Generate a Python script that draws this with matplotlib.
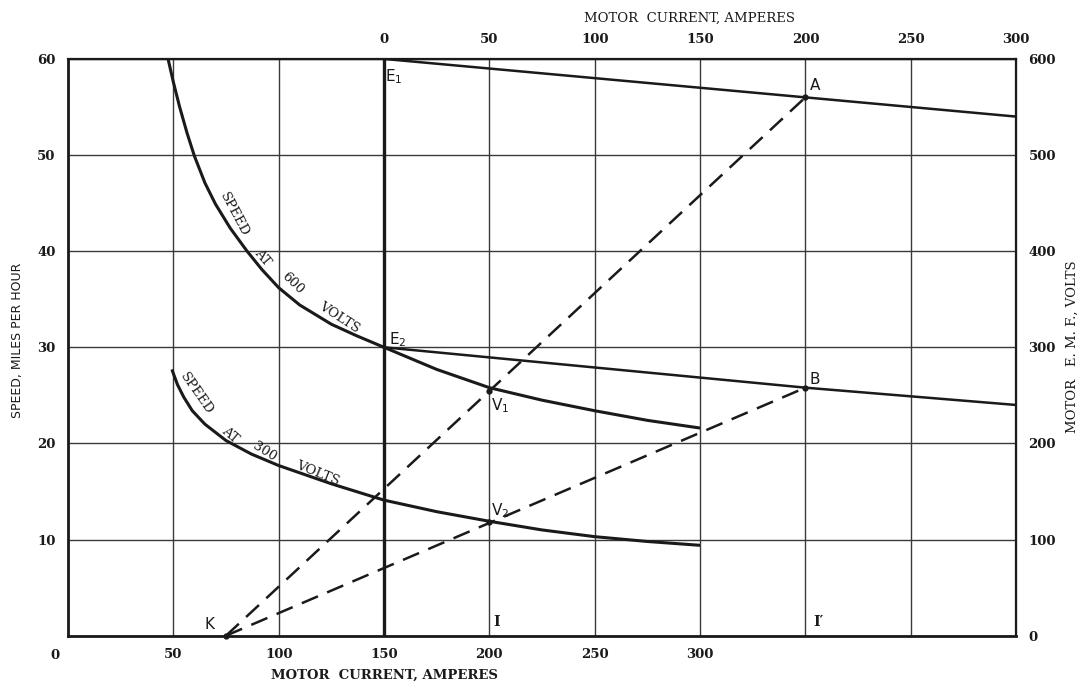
"""Speed / e.m.f. characteristic of a series traction motor at 600 V and 300 V."""

import matplotlib

matplotlib.use("Agg")
import matplotlib.pyplot as plt

plt.rcParams["mathtext.default"] = "regular"

# Speed curves, bottom current scale (amperes) vs miles per hour
amps_600 = [47.5, 50, 53, 56.5, 60, 65, 70, 77, 85, 92, 100, 110, 125, 137, 150,
            175, 200, 225, 250, 275, 300]
speed_600 = [60, 57.6, 55.0, 52.3, 49.9, 47.1, 44.9, 42.4, 40.0, 38.1, 36.2, 34.4,
             32.4, 31.2, 30.0, 27.7, 25.8, 24.5, 23.4, 22.4, 21.6]
amps_300 = [49.3, 52, 55, 59, 65, 75, 87, 100, 125, 150, 175, 200, 225, 250, 275, 300]
speed_300 = [27.7, 26.1, 24.8, 23.4, 22.0, 20.3, 18.9, 17.7, 15.8, 14.1, 12.9, 11.9,
             11.0, 10.3, 9.8, 9.4]

# E.m.f. lines (top current scale is offset by 150 A from the bottom one)
emf_origin = 150
emf_a_x = [150, 350, 450]
emf_a_y = [60, 56, 54]
emf_b_x = [150, 350, 450]
emf_b_y = [30, 25.8, 24]

# Construction points
point_k = (75, 0)
point_a = (350, 56)
point_b = (350, 25.8)
point_v1 = (200, 25.5)
point_v2 = (200, 11.8)

bottom_ticks = [0, 50, 100, 150, 200, 250, 300, 350, 400, 450]
bottom_labels = ["", "50", "100", "150", "200", "250", "300", "", "", ""]
top_ticks = [0, 50, 100, 150, 200, 250, 300]
left_ticks = [0, 10, 20, 30, 40, 50, 60]
left_labels = ["", "10", "20", "30", "40", "50", "60"]
right_ticks = [0, 100, 200, 300, 400, 500, 600]

SERIF = "DejaVu Serif"
SANS = "DejaVu Sans"
INK = "#1a1a1a"

fig = plt.figure(figsize=(10.86, 6.85), dpi=100)
ax = fig.add_axes([0.0626, 0.072, 0.873, 0.842])
ax.set_xlim(0, 450)
ax.set_ylim(0, 60)

ax.set_xticks(bottom_ticks)
ax.set_xticklabels(bottom_labels, fontfamily=SERIF, fontsize=9.5, fontweight="bold")
ax.set_yticks(left_ticks)
ax.set_yticklabels(left_labels, fontfamily=SERIF, fontsize=9.5, fontweight="bold")
ax.tick_params(length=0, pad=9, colors=INK)
ax.grid(True, color="#3a3a3a", linewidth=1.0)
ax.set_axisbelow(True)
for side, lw in {"left": 2.0, "bottom": 2.0, "top": 1.6, "right": 1.6}.items():
    ax.spines[side].set_linewidth(lw)
    ax.spines[side].set_color(INK)

top = ax.secondary_xaxis(
    "top", functions=(lambda x: x - emf_origin, lambda x: x + emf_origin)
)
top.set_xticks(top_ticks)
top.set_xticklabels([str(t) for t in top_ticks], fontfamily=SERIF, fontsize=9.5,
                    fontweight="bold")
top.tick_params(length=0, pad=9, colors=INK)

right = ax.secondary_yaxis("right", functions=(lambda y: y * 10, lambda y: y / 10))
right.set_yticks(right_ticks)
right.set_yticklabels([str(t) for t in right_ticks], fontfamily=SERIF, fontsize=9.5,
                      fontweight="bold")
right.tick_params(length=0, pad=9, colors=INK)

ax.text(-6, -2.1, "0", ha="center", va="center", fontfamily=SERIF, fontsize=9.5,
        fontweight="bold", color=INK, clip_on=False)

# zero-current line of the top scale
ax.axvline(emf_origin, color=INK, linewidth=2.4)

ax.plot(amps_600, speed_600, color=INK, linewidth=2.2, solid_capstyle="butt",
        solid_joinstyle="round")
ax.plot(amps_300, speed_300, color=INK, linewidth=2.2, solid_capstyle="butt",
        solid_joinstyle="round")
ax.plot(emf_a_x, emf_a_y, color=INK, linewidth=1.8)
ax.plot(emf_b_x, emf_b_y, color=INK, linewidth=1.8)

for end in (point_a, point_b):
    ax.plot([point_k[0], end[0]], [point_k[1], end[1]], color=INK, linewidth=1.8,
            dashes=(7, 4), clip_on=False)

dots = [point_k, point_a, point_b, point_v1, point_v2]
ax.plot([p[0] for p in dots], [p[1] for p in dots], "o", color=INK, markersize=3.5,
        clip_on=False)

label_kw = dict(fontfamily=SANS, fontsize=11, color=INK, ha="center", va="center")
ax.text(154.5, 58.2, "E$_1$", **label_kw)
ax.text(354.5, 57.2, "A", **label_kw)
ax.text(156.5, 30.8, "E$_2$", **label_kw)
ax.text(354.5, 26.7, "B", **label_kw)
ax.text(205, 23.9, "V$_1$", **label_kw)
ax.text(205, 13.0, "V$_2$", **label_kw)
ax.text(67, 1.2, "K", **label_kw)
ax.text(203.5, 1.4, "I", fontfamily=SERIF, fontsize=10, fontweight="bold",
        color=INK, ha="center", va="center")
ax.text(356, 1.4, "I\u2032", fontfamily=SERIF, fontsize=10, fontweight="bold",
        color=INK, ha="center", va="center")

# curve captions set word by word along the curves
curve_kw = dict(fontfamily=SERIF, fontsize=9.5, color=INK, ha="center",
                va="center", rotation_mode="anchor")
for word, x, y, rot in [("SPEED", 79, 43.8, -62), ("AT", 92.4, 39.3, -50),
                        ("600", 106.6, 36.7, -44), ("VOLTS", 129, 33.1, -33)]:
    ax.text(x, y, word, rotation=rot, **curve_kw)
for word, x, y, rot in [("SPEED", 61, 25.2, -55), ("AT", 76.8, 20.9, -40),
                        ("300", 93.4, 19.1, -32), ("VOLTS", 118.5, 16.9, -22)]:
    ax.text(x, y, word, rotation=rot, **curve_kw)

fig.text(384 / 1086, 1 - 675 / 685, "MOTOR  CURRENT, AMPERES", ha="center",
         va="center", fontfamily=SERIF, fontsize=9.5, fontweight="bold", color=INK)
fig.text(689 / 1086, 1 - 18 / 685, "MOTOR  CURRENT, AMPERES", ha="center",
         va="center", fontfamily=SERIF, fontsize=9.5, color=INK)
fig.text(18 / 1086, 1 - 340 / 685, "SPEED, MILES PER HOUR", rotation=90,
         ha="center", va="center", fontfamily=SANS, fontsize=9, color=INK)
fig.text(1072 / 1086, 1 - 347 / 685, "MOTOR   E. M. F., VOLTS", rotation=90,
         ha="center", va="center", fontfamily=SERIF, fontsize=9.5, color=INK)

fig.savefig("out.png", dpi=100, facecolor="white")
